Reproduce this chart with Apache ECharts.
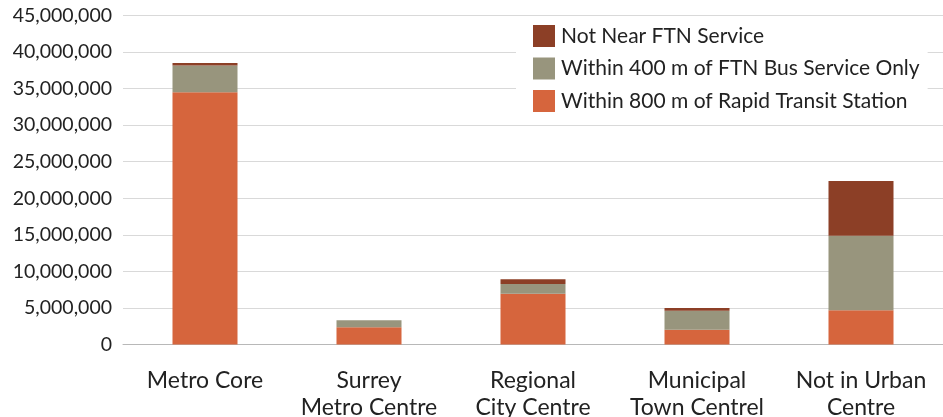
<!DOCTYPE html>
<html>
<head>
<meta charset="utf-8">
<script src="https://cdn.jsdelivr.net/npm/echarts@6/dist/echarts.min.js"></script>
<style>
  html, body { margin: 0; padding: 0; background: #fff; }
  #chart { width: 943px; height: 417px; }
</style>
</head>
<body>
<div id="chart"></div>
<script>
// Population by urban centre type and proximity to frequent transit
const categories = ['Metro Core', 'Surrey\nMetro Centre', 'Regional\nCity Centre', 'Municipal\nTown Centrel', 'Not in Urban\nCentre'];
const rapidTransit = [34500000, 2350000, 6950000, 2020000, 4680000];
const busOnly = [3650000, 950000, 1330000, 2600000, 10200000];
const notNear = [350000, 30000, 640000, 370000, 7490000];
const seriesNames = ['Within 800 m of Rapid Transit Station', 'Within 400 m of FTN Bus Service Only', 'Not Near FTN Service'];
const seriesColors = ['#D6653D', '#98957D', '#8C3F26'];

const FONT = 'Lato';
const chart = echarts.init(document.getElementById('chart'));

const stacks = [rapidTransit, busOnly, notNear];
chart.setOption({
  animation: false,
  textStyle: { fontFamily: FONT },
  grid: { left: 123, right: 0, top: 15.5, bottom: 72.5, containLabel: false, outerBoundsMode: 'none' },
  legend: {
    data: [seriesNames[2], seriesNames[1], seriesNames[0]],
    orient: 'vertical',
    left: 516,
    top: 22,
    itemWidth: 22,
    itemHeight: 22,
    itemGap: 10.5,
    padding: [3, 8, 4, 17],
    backgroundColor: '#ffffff',
    icon: 'rect',
    textStyle: { fontFamily: FONT, fontSize: 21, color: '#222', padding: [4, 0, 0, 1] }
  },
  xAxis: {
    type: 'category',
    data: categories,
    axisTick: { show: false },
    axisLine: { lineStyle: { color: '#b8b8b8', width: 1 } },
    axisLabel: {
      fontFamily: FONT, fontSize: 23, color: '#222',
      lineHeight: 27, margin: 23, interval: 0
    }
  },
  yAxis: {
    type: 'value',
    min: 0, max: 45000000, interval: 5000000,
    axisLine: { show: false },
    axisTick: { show: false },
    splitLine: { lineStyle: { color: '#d9d9d9', width: 1 } },
    axisLabel: {
      fontFamily: FONT, fontSize: 19.5, color: '#222', margin: 11,
      formatter: v => v.toLocaleString('en-US')
    }
  },
  series: stacks.map((vals, i) => ({
    name: seriesNames[i],
    type: 'bar',
    stack: 'total',
    barWidth: 65,
    data: vals,
    itemStyle: { color: seriesColors[i] }
  }))
});
</script>
</body>
</html>
